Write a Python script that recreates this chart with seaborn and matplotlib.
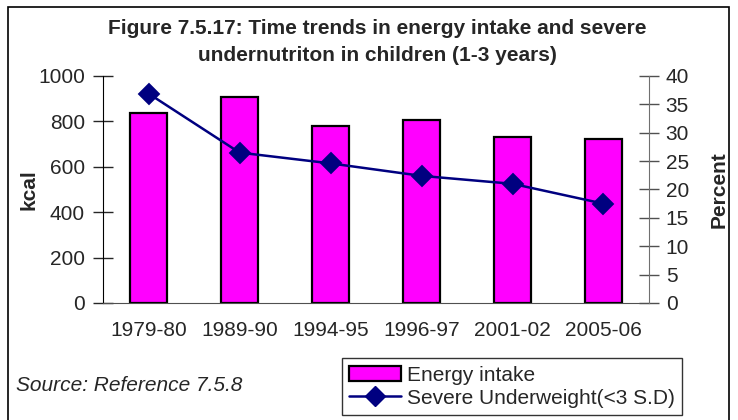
import matplotlib
matplotlib.use("Agg")
import matplotlib.pyplot as plt
from matplotlib.patches import Patch, Rectangle
from matplotlib.lines import Line2D
from matplotlib.ticker import MultipleLocator, FixedLocator
import seaborn as sns
import pandas as pd

years = ["1979-80", "1989-90", "1994-95", "1996-97", "2001-02", "2005-06"]
energy_kcal = [835, 908, 780, 808, 729, 721]
severe_underweight = [36.9, 26.5, 24.6, 22.4, 21.0, 17.5]

sns.set_style("white")
plt.rcParams['font.family'] = ['Liberation Sans', 'DejaVu Sans']

df = pd.DataFrame({"year": years, "kcal": energy_kcal, "pct": severe_underweight})

fs = 15
fig = plt.figure(figsize=(7.38, 4.2), dpi=100)
ax = fig.add_axes([0.1396, 0.2786, 0.7398, 0.5405])

sns.barplot(data=df, x="year", y="kcal", ax=ax, color="#FF00FF", width=0.41,
            edgecolor="black", linewidth=1.6, saturation=1)
ax.set_xlim(-0.5, 5.5)
ax.set_ylim(0, 1000)
ax.yaxis.set_major_locator(MultipleLocator(200))
ax.set_xlabel("")
ax.set_ylabel("kcal", fontsize=fs, fontweight="bold", labelpad=0)

ax2 = ax.twinx()
sns.pointplot(data=df, x="year", y="pct", ax=ax2, color="#000080", markers="D",
              markersize=10, linewidth=1.8)
ax2.set_xlim(-0.5, 5.5)
ax2.set_ylim(0, 40)
ax2.yaxis.set_major_locator(MultipleLocator(5))
ax2.set_xlabel("")
ax2.set_ylabel("Percent", fontsize=fs, fontweight="bold", labelpad=15)

for a in (ax, ax2):
    a.spines["top"].set_visible(False)
    a.tick_params(axis="y", direction="inout", length=14, width=1, labelsize=fs)
ax.spines["left"].set_color("black")
ax.spines["right"].set_visible(False)
ax2.spines["left"].set_visible(False)
ax2.spines["right"].set_color("#707070")
ax.spines["bottom"].set_color("#505050")
ax2.spines["bottom"].set_visible(False)
ax.tick_params(axis="y", pad=6)
ax2.tick_params(axis="y", color="#505050", pad=5)

ax.tick_params(axis="x", which="major", length=0, labelsize=fs, pad=13)
ax.xaxis.set_minor_locator(FixedLocator([i - 0.5 for i in range(len(years) + 1)]))
ax.tick_params(axis="x", which="minor", direction="out", length=7, color="#505050")

fig.text(0.511, 0.931, "Figure 7.5.17: Time trends in energy intake and severe",
         ha="center", va="center", fontsize=fs, fontweight="bold")
fig.text(0.511, 0.869, "undernutriton in children (1-3 years)",
         ha="center", va="center", fontsize=fs, fontweight="bold")

fig.text(0.022, 0.083, "Source: Reference 7.5.8", fontsize=fs, style="italic",
         va="center", ha="left")

handles = [Patch(facecolor="#FF00FF", edgecolor="black", linewidth=1.6),
           Line2D([], [], color="#000080", marker="D", markersize=10, linewidth=1.8)]
leg = fig.legend(handles, ["Energy intake", "Severe Underweight(<3 S.D)"],
                 loc="lower left", bbox_to_anchor=(0.4634, 0.012), fontsize=fs,
                 frameon=True, fancybox=False, handlelength=2.5, handletextpad=0.25,
                 borderpad=0.35, labelspacing=0.2, borderaxespad=0)
leg.get_frame().set_edgecolor("black")
leg.get_frame().set_linewidth(1)

fig.patches.append(Rectangle((8 / 738, -0.05), 721 / 738, 1 - 7 / 420 + 0.05,
                             transform=fig.transFigure, fill=False,
                             edgecolor="black", linewidth=1.2))

fig.savefig("out.png", dpi=100)
